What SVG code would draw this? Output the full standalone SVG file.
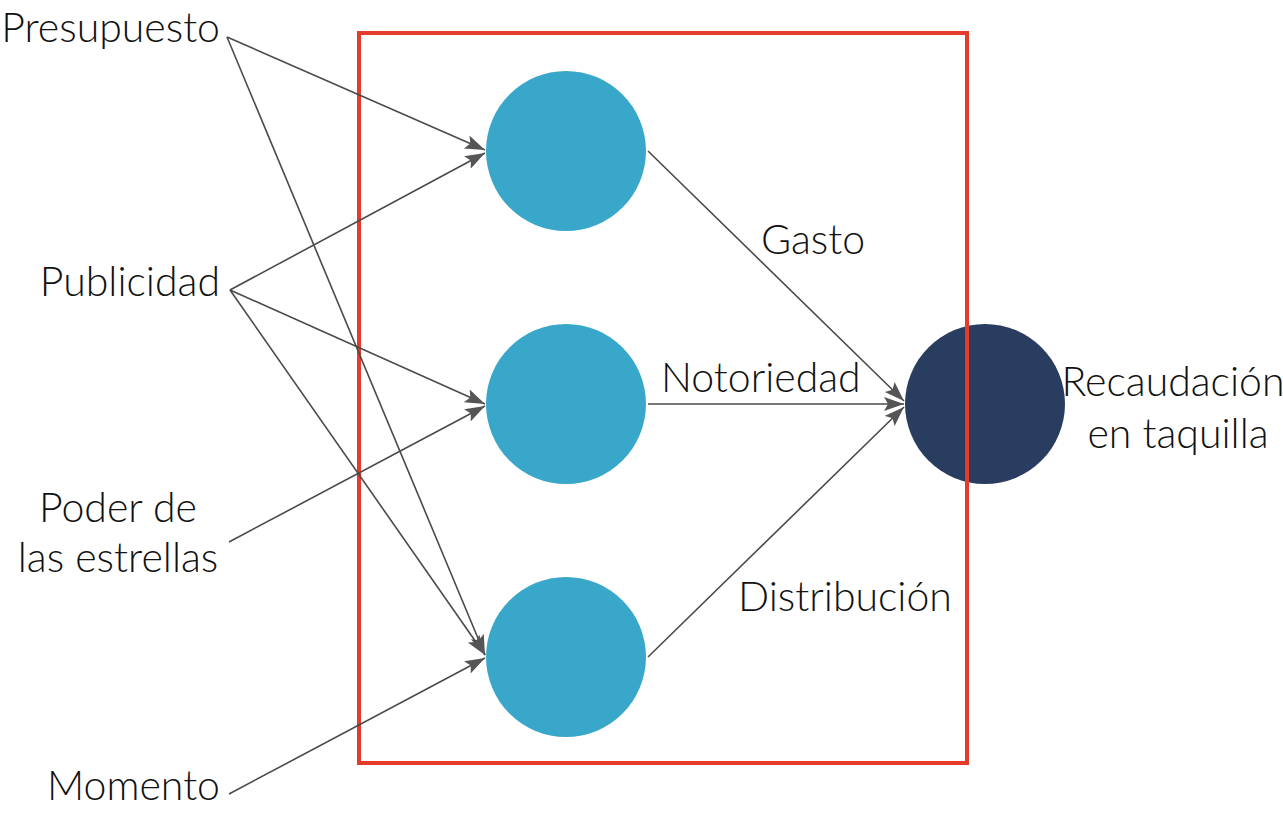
<svg xmlns="http://www.w3.org/2000/svg" width="1283" height="816" viewBox="0 0 1283 816">
<style>
.lbl{font-family:Lato,"Liberation Sans",sans-serif;font-weight:300;font-size:41px;fill:#111}
.in{fill:#39a7c9}
.out{fill:#283d5f}
.c{stroke:#4a4a4a;stroke-width:1.6;fill:none;marker-end:url(#ah)}
</style>
<defs>
<marker id="ah" markerUnits="userSpaceOnUse" markerWidth="22" markerHeight="16" refX="20" refY="7" orient="auto">
<path d="M0,0 L20,7 L0,14 L4,7 z" fill="#555"/>
</marker>
</defs>
<rect width="1283" height="816" fill="#fff"/>
<g id="h1"><circle class="in" cx="566" cy="151" r="80"/></g>
<g id="h2"><circle class="in" cx="566" cy="404" r="80"/></g>
<g id="h3"><circle class="in" cx="566" cy="657" r="80"/></g>
<g id="out"><circle class="out" cx="985" cy="404" r="80"/>
<text class="lbl" x="1173" y="396" text-anchor="middle">Recaudación</text>
<text class="lbl" x="1178" y="448" text-anchor="middle">en taquilla</text></g>
<g id="frame"><rect x="359" y="33" width="608" height="730" fill="none" stroke="#e63a2a" stroke-width="4"/></g>
<g id="inputs">
<g id="presupuesto"><text class="lbl" x="220" y="42" text-anchor="end">Presupuesto</text></g>
<g id="publicidad"><text class="lbl" x="220" y="296" text-anchor="end">Publicidad</text></g>
<g id="poder"><text class="lbl" x="118" y="522" text-anchor="middle">Poder de</text>
<text class="lbl" x="118" y="572" text-anchor="middle">las estrellas</text></g>
<g id="momento"><text class="lbl" x="220" y="800" text-anchor="end">Momento</text></g>
</g>
<g id="connectors">
<line class="c" x1="227" y1="37" x2="485" y2="150"/>
<line class="c" x1="227" y1="37" x2="485" y2="655"/>
<line class="c" x1="230" y1="290" x2="485" y2="153"/>
<line class="c" x1="230" y1="290" x2="485" y2="404"/>
<line class="c" x1="230" y1="290" x2="485" y2="655"/>
<line class="c" x1="229" y1="542" x2="485" y2="406"/>
<line class="c" x1="229" y1="794" x2="485" y2="658"/>
<line class="c" x1="648" y1="151" x2="904" y2="401"/>
<line class="c" x1="648" y1="404" x2="904" y2="404"/>
<line class="c" x1="648" y1="657" x2="904" y2="407"/>
</g>
<g id="edge-labels">
<text class="lbl" x="761" y="254">Gasto</text>
<text class="lbl" x="661" y="392">Notoriedad</text>
<text class="lbl" x="738" y="611">Distribución</text>
</g>
</svg>
